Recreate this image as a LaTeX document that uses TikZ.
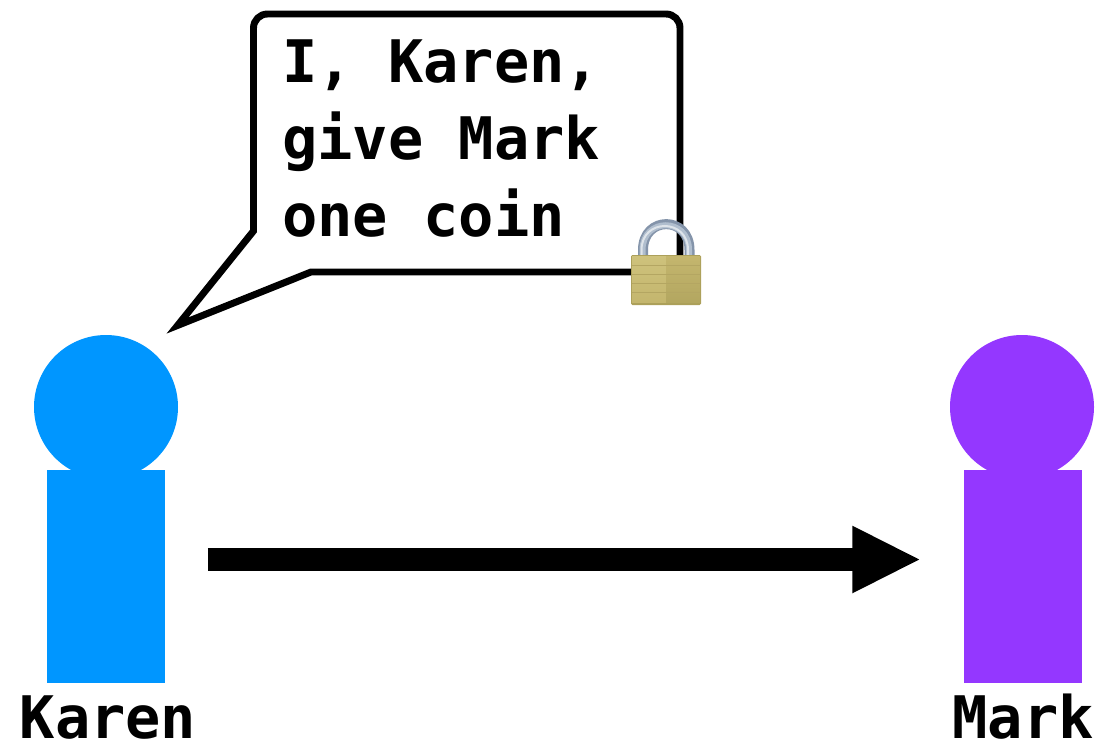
\documentclass[tikz,border=0pt]{standalone}
\usepackage{fontspec}
\setmonofont{DejaVu Sans Mono}
\usetikzlibrary{arrows.meta}
\definecolor{karenblue}{RGB}{0,150,255}
\definecolor{markpurple}{RGB}{148,55,255}
\definecolor{goldlight}{RGB}{206,194,124}
\definecolor{goldmid}{RGB}{196,182,110}
\definecolor{golddark}{RGB}{172,160,90}
\definecolor{lockline}{RGB}{180,166,98}
\definecolor{steeldark}{RGB}{132,148,170}
\definecolor{steelmid}{RGB}{176,190,206}
\definecolor{steellight}{RGB}{222,228,234}
\tikzset{
  personhead/.style={circle,inner sep=0pt,minimum size=108pt},
  personbody/.style={rectangle,inner sep=0pt,minimum width=88.5pt,minimum height=159.75pt},
  namelabel/.style={inner sep=0pt,font=\ttfamily\bfseries\fontsize{44}{50}\selectfont},
  bubbletext/.style={inner sep=0pt,align=left,font=\ttfamily\bfseries\fontsize{44}{57.75}\selectfont}
}
\begin{document}
\begin{tikzpicture}[x=0.75pt,y=0.75pt,yscale=-1,xscale=1]
\useasboundingbox (0,0) rectangle (1099,742);
%Shape: Callout
\draw [line width=5.2pt,fill=white,miter limit=10] (253.5,231) [rounded corners=10.5pt] -- (253.5,14) -- (680,14) -- (680,272) [sharp corners] -- (311,272) -- (177.5,325.5) -- cycle ;
\node [bubbletext,anchor=north west] (speech) at (282,39) {I, Karen,\\give Mark\\one coin};
%Shape: Ellipse
\node [personhead,fill=karenblue] (karenhead) at (106,407) {};
\node [personhead,fill=markpurple] (markhead) at (1022,407) {};
%Shape: Rectangle
\node [personbody,fill=karenblue] (karenbody) at (106,576.5) {};
\node [personbody,fill=markpurple] (markbody) at (1023,576.5) {};
%Straight Lines
\draw [line width=17pt,-{Triangle[length=51.5pt,width=46.5pt]},shorten <=32pt,shorten >=32pt] ([yshift=-12.75pt]karenbody.east) -- ([yshift=-12.75pt]markbody.west) ;
\node [namelabel,anchor=base] (karenlabel) at (108,738) {Karen};
\node [namelabel,anchor=base] (marklabel) at (1023,738) {Mark};
%Shape: Padlock shackle
\draw [line width=7.5pt,color=steeldark] (643,258) -- (643,250) .. controls (643,215.5) and (689.5,215.5) .. (689.5,250) -- (689.5,258) ;
\draw [line width=4.5pt,color=steelmid] (642.5,258) -- (642.5,250) .. controls (642.5,217) and (689,217) .. (689,250) -- (689,258) ;
\draw [line width=1.5pt,color=steellight] (641.5,258) -- (641.5,250) .. controls (641.5,218) and (688,218) .. (688,250) -- (688,258) ;
%Shape: Padlock body
\fill [rounded corners=1pt,color=golddark] (631,255) -- (701,255) -- (701,305) -- (631,305) -- cycle ;
\fill [top color=goldlight,bottom color=goldmid] (632,256) -- (666,256) -- (666,302) -- (632,302) -- cycle ;
\fill [top color=goldmid,bottom color=golddark!70!goldmid] (666,256) -- (700,256) -- (700,302) -- (666,302) -- cycle ;
\foreach \ypos in {265,274,283,292} {
  \draw [line width=0.4pt,color=lockline] (632,\ypos) -- (700,\ypos) ;
}
\end{tikzpicture}
\end{document}
